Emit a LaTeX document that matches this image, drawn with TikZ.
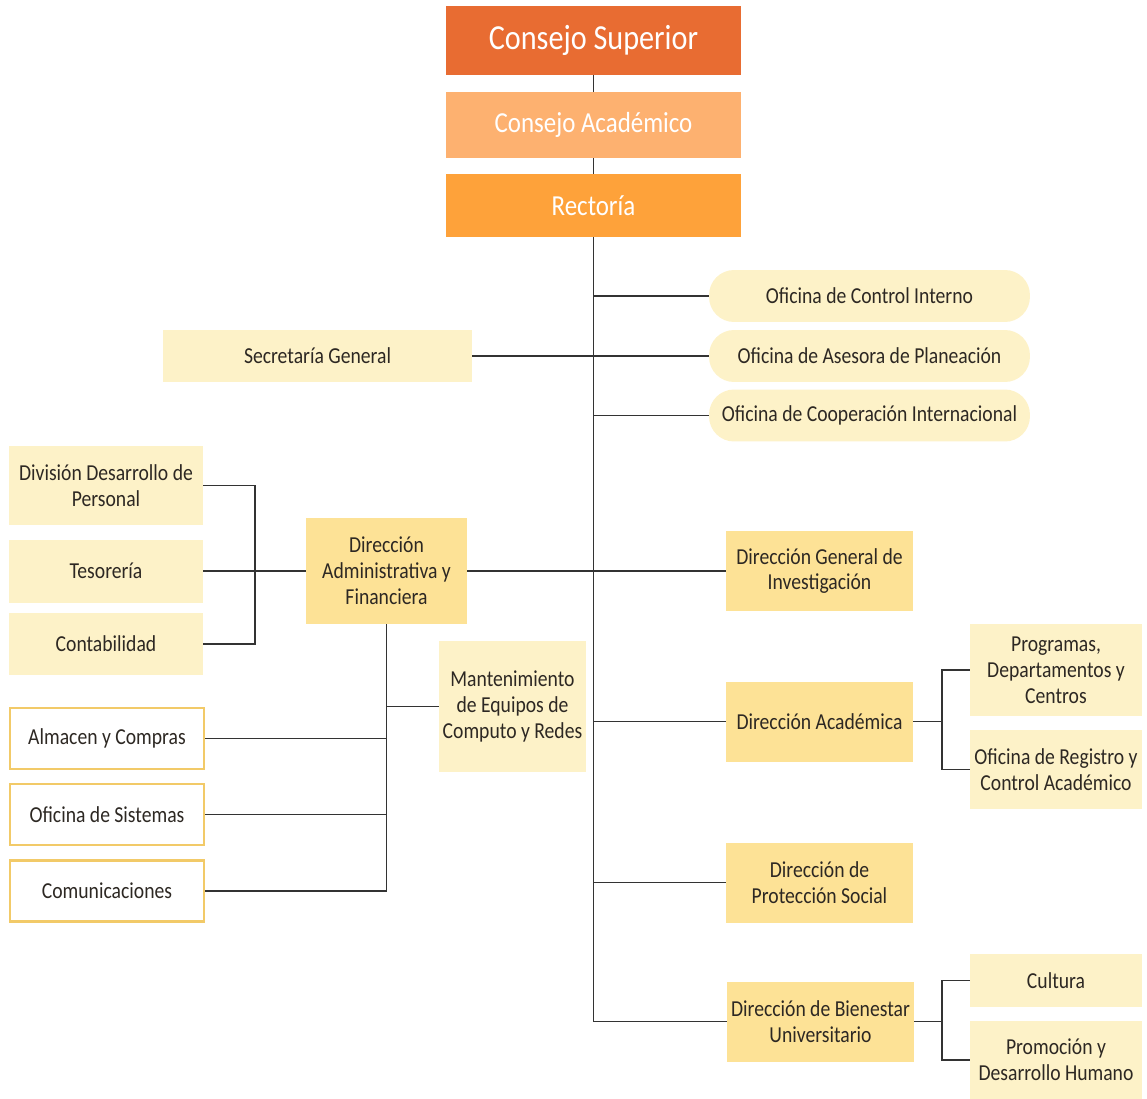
\documentclass[tikz,border=0pt]{standalone}
\usepackage{fontspec}
\setmainfont{Carlito}[FakeStretch=0.86]
\usetikzlibrary{backgrounds}
\definecolor{superior}{RGB}{232,108,50}
\definecolor{academico}{RGB}{253,177,112}
\definecolor{rectoria}{RGB}{254,162,58}
\definecolor{claro}{RGB}{253,242,200}
\definecolor{medio}{RGB}{253,226,150}
\definecolor{borde}{RGB}{242,202,104}
\definecolor{linea}{RGB}{51,51,51}
\definecolor{texto}{RGB}{45,40,35}
\tikzset{
  cuerpo/.style={font=\fontsize{13}{14.7}\selectfont, text=texto, align=center, inner sep=0pt},
  cabeza/.style={fill=#1, text=white, minimum width=5.9cm, inner sep=0pt},
  oficina/.style={cuerpo, fill=claro, rounded corners=0.5cm, minimum width=6.42cm, minimum height=1.04cm},
  unidad/.style={cuerpo, fill=claro},
  direccion/.style={cuerpo, fill=medio, minimum width=3.74cm, minimum height=1.6cm},
  marco/.style={cuerpo, draw=borde, line width=1.2pt, fill=white, minimum width=3.88cm, minimum height=1.22cm},
  conector/.style={draw=linea, line width=1.1pt}
}
\begin{document}
\begin{tikzpicture}[x=0.02cm, y=-0.02cm]
\useasboundingbox (0,0) rectangle (1147,1099);
% cabeza
\node[cabeza=superior, minimum height=1.38cm, font=\fontsize{20}{24}\selectfont] (sup) at (593.5,40.5) {Consejo Superior};
\node[cabeza=academico, minimum height=1.32cm, font=\fontsize{16.5}{20}\selectfont] (acad) at (593.5,125) {Consejo Académico};
\node[cabeza=rectoria, minimum height=1.26cm, font=\fontsize{16.5}{20}\selectfont] (rect) at (593.5,205.5) {Rectoría};
% oficinas
\node[oficina] (ctrl) at (869.5,296) {Oficina de Control Interno};
\node[oficina] (plan) at (869.5,356) {Oficina de Asesora de Planeación};
\node[oficina] (coop) at (869.5,415.5) {Oficina de Cooperación Internacional};
\node[unidad, minimum width=6.18cm, minimum height=1.06cm] (sec) at (317.5,356) {Secretaría General};
% administrativa
\node[unidad, minimum width=3.88cm, minimum height=1.58cm] (divp) at (106,485.5) {División Desarrollo de\\Personal};
\node[unidad, minimum width=3.88cm, minimum height=1.26cm] (teso) at (106,571) {Tesorería};
\node[unidad, minimum width=3.88cm, minimum height=1.24cm] (cont) at (106,644) {Contabilidad};
\node[direccion, minimum width=3.22cm, minimum height=2.12cm] (dadm) at (386.5,571) {Dirección\\Administrativa y\\Financiera};
\node[unidad, minimum width=2.94cm, minimum height=2.62cm] (mant) at (512.5,706.5) {Mantenimiento\\de Equipos de\\Computo y Redes};
\node[marco] (alm) at (107,738.5) {Almacen y Compras};
\node[marco] (sis) at (107,814.5) {Oficina de Sistemas};
\node[marco] (com) at (107,891) {Comunicaciones};
% direcciones
\node[direccion] (dinv) at (819.5,571) {Dirección General de\\Investigación};
\node[direccion] (dac) at (819.5,721.5) {Dirección Académica};
\node[direccion] (dps) at (819.5,882.5) {Dirección de\\Protección Social};
\node[direccion] (dbu) at (820.5,1021.5) {Dirección de Bienestar\\Universitario};
\node[unidad, minimum width=3.44cm, minimum height=1.84cm] (prog) at (1056,670) {Programas,\\Departamentos y\\Centros};
\node[unidad, minimum width=3.44cm, minimum height=1.58cm] (reg) at (1056,769.5) {Oficina de Registro y\\Control Académico};
\node[unidad, minimum width=3.44cm, minimum height=1.06cm] (cul) at (1056,980.5) {Cultura};
\node[unidad, minimum width=3.44cm, minimum height=1.56cm] (prom) at (1056,1060) {Promoción y\\Desarrollo Humano};
\coordinate (brkl) at (255,571);
\coordinate (brka) at (942,721.5);
\coordinate (brkb) at (942,1021.5);
\begin{scope}[on background layer]
\draw[conector] (sup.south) -- (sup.south |- dbu.west) -- (dbu.west);
\foreach \n in {ctrl,plan,coop,dinv,dac,dps}
  \draw[conector] (\n.west) -- (\n.west -| sup.south);
\draw[conector] (sec.east) -- (sec.east -| sup.south);
\draw[conector] (dadm.east) -- (dinv.west);
\draw[conector] (teso.east) -- (dadm.west);
\draw[conector] (divp.east) -- (divp.east -| brkl) -- (cont.east -| brkl) -- (cont.east);
\draw[conector] (dadm.south) -- (dadm.south |- com.east) -- (com.east);
\foreach \n in {alm,sis,mant}
  \draw[conector] (\n.east -| dadm.south) -- (\n.east);
\draw[conector] (mant.west) -- (mant.west -| dadm.south);
\draw[conector] (dac.east) -- (brka);
\draw[conector] (prog.west) -- (prog.west -| brka) -- (reg.west -| brka) -- (reg.west);
\draw[conector] (dbu.east) -- (brkb);
\draw[conector] (cul.west) -- (cul.west -| brkb) -- (prom.west -| brkb) -- (prom.west);
\end{scope}
\end{tikzpicture}
\end{document}
